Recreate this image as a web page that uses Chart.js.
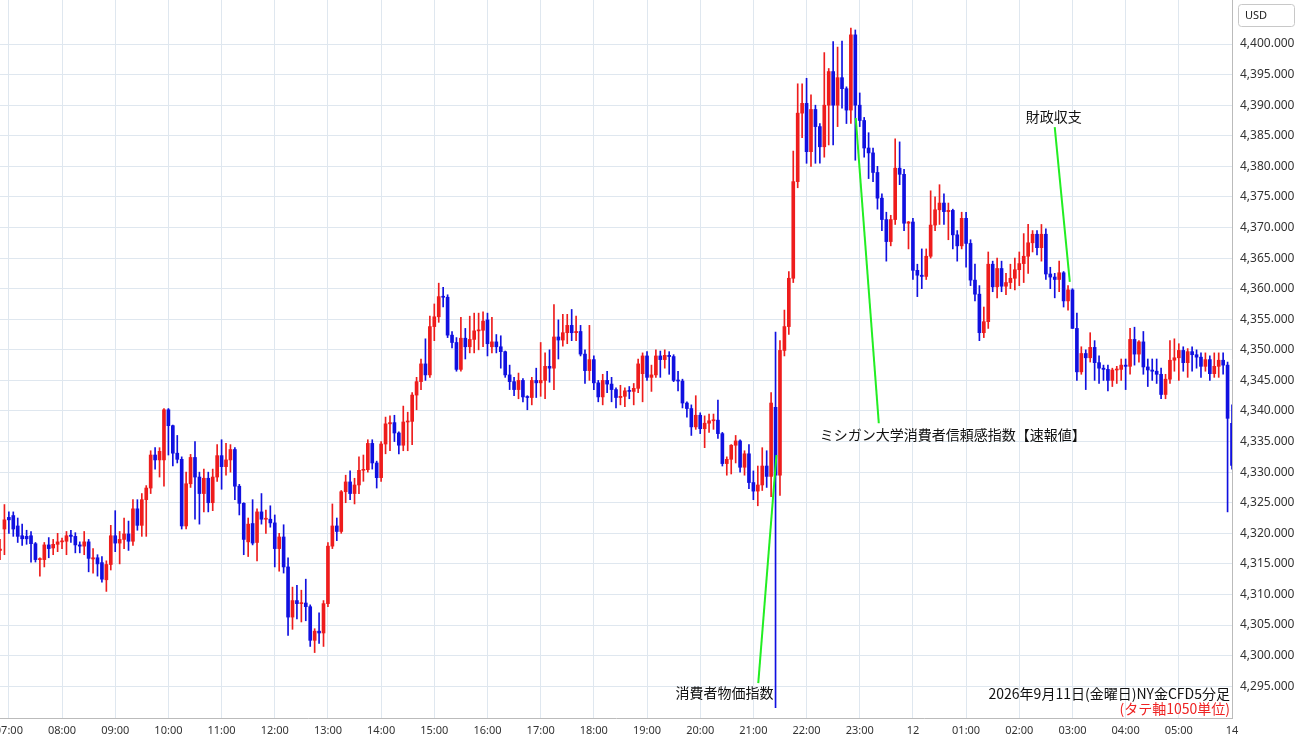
<!DOCTYPE html>
<html>
<head>
<meta charset="utf-8">
<script src="https://cdn.jsdelivr.net/npm/chart.js@4/dist/chart.umd.min.js"></script>
<style>
  html, body { margin: 0; padding: 0; background: #fff; }
  #wrap { width: 1300px; height: 745px; }
</style>
</head>
<body>
<div id="wrap"><canvas id="candleChart"></canvas></div>
<script>
// NY金CFD 5分足, 2026-09-11 06:50 -> 09-12 06:05
const START_MIN = 6 * 60 + 50;
const STEP_MIN = 5;

const opens = [
  4317.2,4320.7,4322.6,4322.9,4321.2,4319.6,4319.5,4319.6,4318.3,4315.7,
  4315.7,4318.1,4317.6,4318.2,4318.6,4318.7,4319.7,4319.5,4318.1,4317.9,
  4318.6,4315.8,4316.0,4315.2,4312.4,4314.9,4319.6,4318.4,4319.0,4319.9,
  4318.7,4324.0,4321.3,4325.5,4327.4,4332.8,4332.0,4332.0,4340.2,4337.6,
  4333.1,4332.1,4321.2,4328.1,4332.4,4329.2,4326.5,4329.0,4325.0,4329.2,
  4332.7,4330.9,4332.0,4333.7,4327.7,4324.9,4318.6,4321.6,4318.5,4323.5,
  4322.3,4322.3,4321.7,4317.5,4319.4,4314.5,4306.3,4309.0,4308.5,4308.6,
  4308.0,4302.5,4304.0,4303.7,4308.5,4317.9,4321.2,4320.3,4326.8,4328.4,
  4326.5,4327.9,4330.3,4330.4,4334.7,4331.5,4329.1,4334.6,4337.9,4338.1,
  4336.4,4334.4,4338.2,4338.3,4342.6,4344.8,4347.7,4345.9,4353.8,4355.4,
  4358.7,4358.6,4352.4,4351.2,4346.8,4351.9,4350.5,4351.7,4353.1,4353.2,
  4354.9,4350.5,4351.3,4350.5,4349.7,4345.9,4344.8,4343.5,4345.0,4342.3,
  4342.2,4345.0,4344.6,4345.0,4347.3,4347.0,4352.1,4351.6,4352.8,4354.0,
  4352.8,4353.0,4349.3,4346.6,4348.4,4344.6,4342.3,4345.0,4344.4,4343.5,
  4342.2,4342.4,4343.3,4343.2,4343.7,4346.1,4349.0,4345.5,4345.9,4349.0,
  4348.4,4349.1,4348.9,4345.0,4344.9,4341.3,4340.4,4337.4,4339.3,4337.1,
  4338.0,4338.4,4338.5,4336.3,4331.4,4332.1,4334.4,4335.1,4330.8,4333.0,
  4328.3,4326.9,4327.9,4331.0,4329.3,4340.6,4329.5,4349.9,4353.8,4361.7,
  4377.5,4388.7,4390.3,4382.4,4389.3,4386.5,4383.2,4390.0,4395.5,4390.0,
  4394.5,4392.7,4389.2,4401.5,4390.0,4387.5,4383.0,4382.2,4379.0,4374.8,
  4371.3,4367.7,4371.3,4379.7,4378.7,4370.7,4370.9,4363.0,4362.2,4362.0,
  4365.3,4370.4,4372.9,4374.0,4372.6,4372.8,4368.8,4367.0,4371.5,4367.4,
  4361.4,4359.1,4352.8,4354.6,4364.0,4360.3,4363.3,4360.4,4361.0,4361.7,
  4363.1,4364.1,4365.3,4367.5,4368.9,4366.7,4368.9,4362.4,4361.9,4361.5,
  4362.6,4358.0,4359.8,4353.5,4346.4,4349.4,4348.7,4350.4,4347.9,4347.0,
  4346.8,4345.0,4346.7,4346.8,4347.5,4347.3,4351.7,4349.3,4351.3,4347.2,
  4346.7,4346.5,4346.0,4342.7,4345.2,4348.3,4348.7,4349.9,4347.9,4349.7,
  4349.2,4348.8,4347.3,4348.4,4346.1,4347.3,4348.3,4347.5,4338.0
];
const highs = [
  4319,4324.7,4323.5,4323.5,4322.5,4321.5,4320.5,4320.3,4318.5,4316,
  4318.5,4319.3,4319,4320,4319.2,4320.3,4320.5,4320.1,4318.6,4320.3,
  4319,4317.5,4316.5,4316.2,4315.5,4321.3,4323.7,4320.3,4322.5,4322,
  4325.5,4325.5,4326.5,4327.8,4333.5,4334,4334,4340.4,4340.4,4337.7,
  4336,4332.5,4330,4332.9,4335,4330,4330.5,4330,4330.5,4334.5,
  4335.3,4334.7,4334.5,4334,4328,4325,4322.5,4325.5,4324,4326.5,
  4323.8,4324.5,4323,4320,4321.4,4316,4311.2,4311.5,4310.7,4312.5,
  4308.3,4304.4,4307,4309,4318.5,4324.8,4322.5,4327,4329.5,4330.2,
  4329,4332.5,4332.8,4335.3,4335.3,4331.8,4335,4339,4339.2,4339.3,
  4336.6,4340.8,4339.8,4343,4345.5,4348.5,4351.8,4355.5,4357.5,4360.9,
  4360.2,4359,4353,4352,4355.3,4353.5,4355.5,4356,4356,4356.2,
  4356,4355.3,4352.5,4352.3,4349.8,4347.5,4345.5,4346.2,4345.3,4342.5,
  4345.5,4347,4351.2,4349.5,4350.0,4357.4,4354.9,4355.8,4355.8,4356.6,
  4355.5,4354,4350,4354,4349,4345,4346,4346.5,4345.5,4343.8,
  4344.2,4343.8,4344,4344.5,4348.5,4349.5,4349.7,4347.5,4350,4349.8,
  4350,4349.7,4349.2,4346.5,4345.2,4341.5,4341,4342.5,4339.7,4339.2,
  4339.5,4339.5,4341.8,4336.5,4332.5,4334.5,4336,4335.3,4333.5,4334.5,
  4330.2,4331,4334,4333.5,4343,4352.9,4351.5,4356.5,4362.8,4382.5,
  4393.5,4393.5,4394.4,4391.7,4390,4387,4398.6,4396,4400.4,4399.5,
  4400.5,4393,4402.6,4402.3,4392,4388,4385.5,4383,4380,4375.5,
  4372.5,4372,4384.5,4384,4379.5,4371,4371.5,4364,4366.5,4366.5,
  4376,4375,4377,4375.5,4374,4373,4369.5,4372.5,4372.5,4368,
  4364,4360.5,4357,4366,4364.5,4365,4364.5,4362.5,4364,4365,
  4366,4369,4370.5,4369.5,4369.5,4370.5,4369.8,4363.5,4362.5,4364.5,
  4362.8,4360.5,4360,4356,4350.5,4350,4352.8,4351.5,4349,4347.5,
  4347.5,4347,4347.3,4348.5,4348.5,4353.5,4353.7,4351.5,4353,4348.5,
  4348.5,4348.5,4347,4346,4351.5,4351.8,4351,4350.5,4350.2,4350.5,
  4350,4349.5,4349.5,4349,4349.5,4349.5,4349.5,4348,4341
];
const lows = [
  4315.7,4316.5,4320,4319.5,4318.5,4318,4318.2,4315.3,4315.3,4313.0,
  4314.5,4316,4316.5,4317,4317.5,4316.5,4318.5,4316.8,4316.8,4316.5,
  4313.7,4313.5,4313.0,4312.0,4310.5,4314,4317,4315,4317.5,4317.2,
  4318,4320.5,4319.5,4319.5,4326.5,4330.5,4329.2,4327.7,4332.8,4331,
  4331.5,4320.7,4320.7,4327.5,4322.3,4321.5,4323.5,4323.5,4323.7,4328.5,
  4327.2,4329.5,4330,4325.5,4323,4316.5,4316.2,4318.1,4315.5,4321.5,
  4320,4321,4314.5,4313.8,4313.5,4303.3,4304.3,4306,4305.5,4305.7,
  4301.5,4300.5,4302,4301.5,4308,4317.5,4318.8,4320,4325,4325.5,
  4324.8,4326.5,4328.5,4330,4330.5,4327.4,4328.5,4333,4333.5,4335,
  4333,4333.5,4333.5,4334.5,4340.2,4343.5,4345.0,4345.5,4351.5,4354.5,
  4357,4352,4350.3,4346.5,4346.5,4348.5,4349.5,4349.5,4350,4350.5,
  4349,4349.5,4349.5,4347,4345.5,4343.5,4342.5,4342,4341.5,4340.2,
  4341,4342.2,4342.4,4342,4344.7,4343.5,4348.5,4350.6,4351,4351.5,
  4351.5,4349,4344.5,4345,4343.5,4341.5,4341,4343,4341.5,4340.5,
  4341,4340.7,4342,4341,4343,4341.5,4345,4343.2,4345.5,4345.5,
  4347,4346,4344.8,4343.3,4340.5,4339,4336,4337,4336.3,4334,
  4336.5,4337,4335.5,4331,4329.5,4329.7,4331.5,4330,4329.5,4327.3,
  4325.5,4324.5,4327,4327.5,4326,4291.5,4326.2,4349,4352.5,4361,
  4376.5,4384.7,4380.5,4380,4380.5,4380.5,4381.5,4383.5,4383.5,4386.5,
  4389.5,4387,4387,4381,4386.5,4381.5,4378,4377.5,4373,4369.5,
  4364.5,4367,4370.5,4377,4369.5,4366.5,4361.5,4358.7,4360,4361.5,
  4365,4369.5,4370.5,4370.5,4368,4366.5,4364.5,4366.5,4363.5,4360.5,
  4358,4351.5,4352,4353.5,4359.5,4358.5,4359.5,4359,4360,4359.8,
  4360.5,4361,4362.5,4366,4365.5,4364.5,4361.5,4360,4358.5,4359.5,
  4357,4356.5,4353.5,4345,4346,4343.5,4348,4345,4344.5,4345,
  4343.3,4344,4344.5,4345,4343.5,4346,4347.5,4348,4346,4344,
  4345,4344.5,4342,4342,4344.5,4346.5,4345,4346.5,4345.5,4346.5,
  4347,4345.5,4346.5,4345,4345.5,4345.5,4346,4323.5,4330.5
];
const closes = [
  4317.4,4322.2,4322.2,4320.7,4319.5,4319.1,4319.1,4318.3,4315.7,4315.8,
  4318.1,4317.5,4318.2,4318.6,4318.7,4319.6,4319.5,4318.1,4317.9,4318.6,
  4315.9,4316.0,4315.0,4312.5,4314.9,4319.6,4318.4,4319.0,4319.9,4318.7,
  4324.0,4321.3,4325.5,4327.4,4332.8,4332.0,4333.4,4340.2,4337.6,4333.1,
  4332.1,4321.2,4328.1,4332.4,4329.2,4326.5,4329.0,4325.0,4329.2,4332.7,
  4330.9,4332.0,4333.7,4327.7,4324.9,4319.0,4321.5,4318.4,4323.5,4322.3,
  4322.4,4321.7,4317.5,4319.4,4314.5,4306.3,4309.0,4308.5,4308.6,4308.0,
  4302.5,4304.0,4303.7,4308.5,4317.9,4321.2,4320.3,4326.8,4328.4,4326.5,
  4327.9,4330.3,4330.4,4334.7,4331.5,4329.1,4334.6,4337.9,4338.1,4336.4,
  4334.4,4338.2,4338.3,4342.6,4344.8,4347.7,4345.9,4353.8,4355.4,4358.7,
  4358.6,4352.4,4351.2,4346.8,4351.9,4350.5,4351.7,4353.1,4353.2,4354.7,
  4351.0,4351.3,4350.5,4349.7,4345.9,4344.8,4343.5,4345.0,4342.3,4342.2,
  4345.0,4344.6,4345.0,4347.3,4347.0,4352.1,4351.6,4352.8,4354.0,4352.8,
  4353.0,4349.3,4346.6,4348.4,4344.6,4342.3,4345.0,4344.4,4343.5,4342.2,
  4342.4,4343.3,4343.2,4343.7,4347.7,4349.0,4345.5,4345.9,4349.0,4348.4,
  4349.1,4348.9,4345.0,4344.9,4341.3,4340.4,4337.4,4339.3,4337.1,4338.0,
  4338.4,4338.5,4336.3,4331.4,4332.1,4334.4,4335.1,4330.8,4333.0,4328.3,
  4326.9,4327.9,4331.0,4329.3,4341.3,4329.5,4349.9,4353.8,4361.7,4377.5,
  4388.7,4390.3,4382.4,4389.3,4386.5,4383.2,4390.0,4395.5,4390.0,4394.5,
  4392.7,4389.2,4401.5,4390.0,4387.5,4383.0,4382.2,4379.0,4374.8,4371.3,
  4367.7,4371.3,4379.7,4378.7,4370.7,4370.9,4363.0,4362.2,4362.0,4365.3,
  4370.4,4372.9,4374.0,4372.6,4372.8,4368.8,4367.0,4371.5,4367.4,4361.4,
  4359.1,4352.8,4354.6,4364.0,4360.3,4363.3,4360.4,4361.0,4361.7,4363.1,
  4364.1,4365.3,4367.5,4368.9,4366.7,4368.9,4362.4,4361.9,4361.5,4362.6,
  4358.0,4359.8,4353.5,4346.4,4349.4,4348.7,4350.4,4347.9,4347.0,4346.8,
  4345.0,4346.7,4346.8,4347.5,4347.3,4351.7,4349.3,4351.3,4347.2,4346.7,
  4346.5,4346.0,4342.7,4345.2,4348.3,4348.7,4349.9,4347.9,4349.7,4349.2,
  4348.8,4347.3,4348.4,4346.1,4347.3,4348.3,4347.5,4338.8,4331.1
];

// 時間軸ラベル (毎正時)
const hourLabels = ['07:00','08:00','09:00','10:00','11:00','12:00','13:00','14:00','15:00','16:00',
  '17:00','18:00','19:00','20:00','21:00','22:00','23:00','12','01:00','02:00','03:00','04:00','05:00','14'];

// 指標発表の注記: [text, lineFrom(index, price), lineTo(index, price), textPos(index, price), align]
const notes = [
  ['消費者物価指数', [171.1, 4295.5], [175.2, 4332.8], [163.5, 4293.9], 'center'],
  ['ミシガン大学消費者信頼感指数【速報値】', [193.1, 4387.9], [198.3, 4338.0], [185.0, 4336.2], 'left'],
  ['財政収支', [238.0, 4386.4], [241.4, 4361.1], [237.8, 4388.2], 'center']
];

const UP = '#ee1c1c';
const DOWN = '#1010e0';

const labels = [];
for (let i = 0; i < closes.length; i++) {
  const m = (START_MIN + i * STEP_MIN) % 1440;
  labels.push(String(Math.floor(m / 60)).padStart(2, '0') + ':' + String(m % 60).padStart(2, '0'));
}
let h = 0;
const tickText = labels.map(t => t.endsWith(':00') ? hourLabels[h++] : null);

const colors = closes.map((c, i) => c >= opens[i] ? UP : DOWN);
const bodies = closes.map((c, i) => [opens[i], c]);
const wicks = closes.map((c, i) => [lows[i], highs[i]]);

const JP = '"Noto Sans CJK JP", "Noto Sans", sans-serif';

const overlay = {
  id: 'overlay',
  afterDatasetsDraw(chart) {
    const ctx = chart.ctx, xs = chart.scales.x, ys = chart.scales.y, area = chart.chartArea;
    ctx.save();
    notes.forEach(n => {
      ctx.strokeStyle = '#22ee22';
      ctx.lineWidth = 2;
      ctx.beginPath();
      ctx.moveTo(xs.getPixelForValue(n[1][0]), ys.getPixelForValue(n[1][1]));
      ctx.lineTo(xs.getPixelForValue(n[2][0]), ys.getPixelForValue(n[2][1]));
      ctx.stroke();
      ctx.font = '14px ' + JP;
      ctx.fillStyle = '#111';
      ctx.textAlign = n[4];
      ctx.textBaseline = 'middle';
      ctx.fillText(n[0], xs.getPixelForValue(n[3][0]), ys.getPixelForValue(n[3][1]));
    });
    ctx.textAlign = 'right';
    ctx.textBaseline = 'middle';
    ctx.font = '14px ' + JP;
    ctx.fillStyle = '#111';
    ctx.fillText('2026年9月11日(金曜日)NY金CFD5分足', area.right - 2, area.bottom - 24);
    ctx.fillStyle = '#ee2222';
    ctx.fillText('(タテ軸1050単位)', area.right - 2, area.bottom - 9);
    // USD box
    ctx.fillStyle = '#fff';
    ctx.strokeStyle = '#c8c8c8';
    ctx.lineWidth = 1;
    ctx.beginPath();
    ctx.roundRect(area.right + 6.5, 4.5, 56, 22, 3);
    ctx.fill();
    ctx.stroke();
    ctx.fillStyle = '#222';
    ctx.textAlign = 'left';
    ctx.font = '11px "Noto Sans", sans-serif';
    ctx.fillText('USD', area.right + 13, 16);
    ctx.restore();
  }
};

new Chart(document.getElementById('candleChart'), {
  type: 'bar',
  data: {
    labels: labels,
    datasets: [
      { data: bodies, backgroundColor: colors, barThickness: 3, grouped: false, minBarLength: 1, order: 0 },
      { data: wicks, backgroundColor: colors, barThickness: 1, grouped: false, order: 1 }
    ]
  },
  options: {
    responsive: true,
    maintainAspectRatio: false,
    animation: false,
    layout: { padding: 0 },
    plugins: { legend: { display: false }, tooltip: { enabled: false } },
    scales: {
      x: {
        offset: false,
        grid: { offset: false, color: '#dfe7ef', drawTicks: false },
        border: { color: '#bbb' },
        ticks: {
          autoSkip: false, maxRotation: 0, padding: 6,
          font: { family: '"Noto Sans", sans-serif', size: 11 }, color: '#333',
          callback: (v, i) => tickText[i]
        },
        afterFit: s => { s.height = 27; s.paddingLeft = 0; s.paddingRight = 0; }
      },
      y: {
        position: 'right',
        min: 4289.8,
        max: 4407.2,
        grid: { color: '#dfe7ef', drawTicks: false },
        border: { color: '#bbb' },
        afterBuildTicks: s => {
          const t = [];
          for (let v = 4295; v <= 4400; v += 5) t.push({ value: v });
          s.ticks = t;
        },
        ticks: {
          padding: 8,
          font: { family: '"Noto Sans", sans-serif', size: 12 }, color: '#333',
          callback: v => v.toLocaleString('en-US', { minimumFractionDigits: 3 })
        },
        afterFit: s => { s.width = 68; s.paddingTop = 0; s.paddingBottom = 0; }
      }
    }
  },
  plugins: [overlay]
});
</script>
</body>
</html>
